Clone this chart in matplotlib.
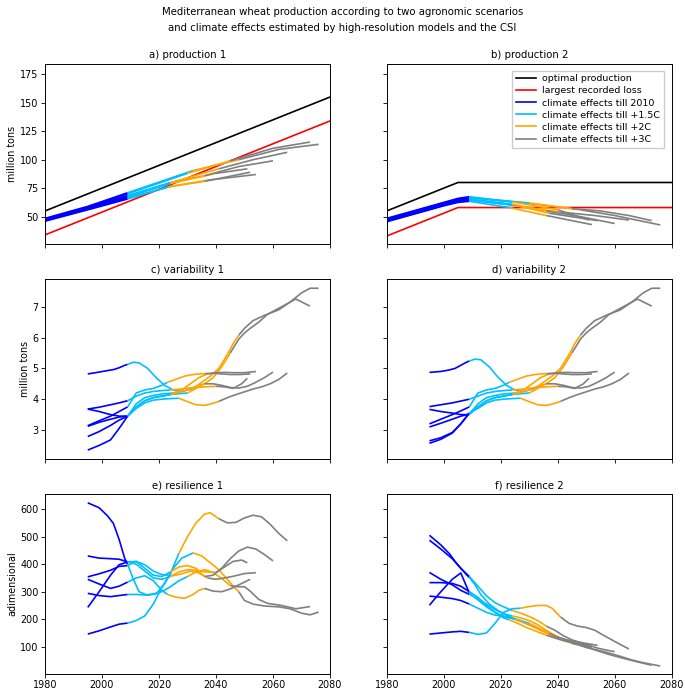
import matplotlib
matplotlib.use('Agg')
import matplotlib.pyplot as plt
from matplotlib.lines import Line2D

plt.rcParams['font.family'] = ['DejaVu Sans']

# ---------------- data ----------------
legend_labels = ['optimal production', 'largest recorded loss', 'climate effects till 2010',
                 'climate effects till +1.5C', 'climate effects till +2C', 'climate effects till +3C']
stage_colors = ['#0000ff', '#00bfff', '#ffa500', '#808080']

end_2010 = 2009
t15_years = [2024, 2023, 2025, 2024, 2027, 2030, 2032]
t2_years = [2040, 2036, 2037, 2036, 2041, 2045, 2048]
t3_years = [2051, 2052, 2054, 2060, 2065, 2073, 2076]

# optimal production and largest recorded loss
opt1_years = [1980, 2080]
opt1_vals = [55, 155]
loss1_vals = [34, 134]
opt2_years = [1980, 2005, 2080]
opt2_vals = [55, 80, 80]
loss2_vals = [33, 58, 58]

# production 1
prod1_years_A = [1980, 1995, 2009, 2024, 2040, 2051]
prod1_A = [47, 57.5, 68, 79, 88, 92]
prod1_years_B = [1980, 1995, 2009, 2023, 2036, 2052]
prod1_B = [46, 56, 65.5, 76, 81, 89]
prod1_years_C = [1980, 1995, 2009, 2025, 2037, 2054]
prod1_C = [46.5, 57, 66.5, 77, 82, 87]
prod1_years_D = [1980, 1995, 2009, 2024, 2036, 2048, 2060]
prod1_D = [47.5, 58, 68.5, 80, 86, 94, 99]
prod1_years_E = [1980, 1995, 2009, 2027, 2041, 2053, 2065]
prod1_E = [47, 57, 67, 82, 92, 100, 106.5]
prod1_years_F = [1980, 1995, 2009, 2030, 2045, 2060, 2073]
prod1_F = [48, 58.5, 70, 88, 99, 110, 115.5]
prod1_years_G = [1980, 1995, 2009, 2032, 2048, 2062, 2076]
prod1_G = [48.5, 59, 71, 90.5, 100, 109, 113.5]

# production 2
prod2_years_A = [1980, 1990, 2000, 2005, 2009, 2024, 2040, 2051]
prod2_A = [47.5, 54.5, 61.5, 65, 66.5, 63, 56, 47]
prod2_years_B = [1980, 1990, 2000, 2005, 2009, 2023, 2036, 2052]
prod2_B = [45.5, 52.5, 59.5, 62.5, 63.5, 58, 51, 43]
prod2_years_C = [1980, 1990, 2000, 2005, 2009, 2025, 2037, 2054]
prod2_C = [46, 53, 60, 63.5, 64.5, 60, 53, 46.5]
prod2_years_D = [1980, 1990, 2000, 2005, 2009, 2024, 2036, 2048, 2060]
prod2_D = [47, 54, 61, 64.5, 65.5, 61, 55, 50, 44]
prod2_years_E = [1980, 1990, 2000, 2005, 2009, 2027, 2041, 2053, 2065]
prod2_E = [46.5, 53.5, 60.5, 64, 65, 59, 54, 51, 47]
prod2_years_F = [1980, 1990, 2000, 2005, 2009, 2030, 2045, 2055, 2065, 2073]
prod2_F = [48, 55, 62, 65.5, 67, 62, 57, 55, 51, 46.5]
prod2_years_G = [1980, 1990, 2000, 2005, 2009, 2020, 2032, 2048, 2060, 2076]
prod2_G = [48.5, 55.5, 62.5, 66, 67.5, 64, 61, 56, 51, 42.7]

# years for variability / resilience
years_A = [1995, 1999, 2003, 2006, 2009, 2012, 2015, 2018, 2021, 2024, 2027, 2030, 2033, 2036, 2040, 2043, 2046, 2049, 2051]
years_B = [1995, 1999, 2003, 2006, 2009, 2012, 2015, 2018, 2021, 2023, 2026, 2029, 2032, 2034, 2036, 2039, 2042, 2045, 2048, 2052]
years_C = [1995, 1999, 2003, 2006, 2009, 2012, 2015, 2018, 2021, 2025, 2028, 2031, 2034, 2037, 2040, 2043, 2046, 2050, 2054]
years_D = [1995, 1999, 2003, 2006, 2009, 2012, 2015, 2018, 2021, 2024, 2027, 2030, 2033, 2036, 2039, 2042, 2045, 2048, 2051, 2054, 2057, 2060]
years_E = [1995, 1999, 2003, 2006, 2009, 2012, 2015, 2018, 2021, 2024, 2027, 2030, 2033, 2036, 2038, 2041, 2044, 2047, 2050, 2053, 2056, 2059, 2062, 2065]
years_F = [1995, 1999, 2003, 2006, 2009, 2012, 2015, 2018, 2021, 2024, 2027, 2030, 2033, 2036, 2039, 2042, 2045, 2048, 2050, 2052, 2055, 2058, 2063, 2068, 2073]
years_G = [1995, 1999, 2002, 2004, 2006, 2008, 2009, 2011, 2013, 2016, 2019, 2022, 2025, 2028, 2032, 2035, 2038, 2041, 2044, 2046, 2048, 2050, 2053, 2057, 2062, 2066, 2070, 2073, 2076]

# variability 1
var1_A = [3.68, 3.74, 3.82, 3.88, 3.95, 4.1, 4.2, 4.25, 4.28, 4.3, 4.32, 4.36, 4.38, 4.4, 4.42, 4.4, 4.35, 4.5, 4.68]
var1_B = [3.14, 3.3, 3.45, 3.6, 3.75, 4.2, 4.3, 4.35, 4.45, 4.55, 4.65, 4.75, 4.8, 4.82, 4.83, 4.84, 4.82, 4.8, 4.8, 4.82]
var1_C = [3.12, 3.25, 3.35, 3.42, 3.45, 3.85, 4.05, 4.12, 4.17, 4.2, 4.3, 4.5, 4.7, 4.82, 4.86, 4.87, 4.86, 4.86, 4.9]
var1_D = [2.79, 2.95, 3.15, 3.32, 3.45, 3.75, 3.95, 4.05, 4.1, 4.15, 4.22, 4.3, 4.42, 4.5, 4.5, 4.45, 4.38, 4.36, 4.42, 4.55, 4.7, 4.88]
var1_E = [2.35, 2.5, 2.68, 3.05, 3.45, 3.7, 3.88, 3.97, 4.0, 4.02, 4.03, 3.92, 3.82, 3.8, 3.84, 3.93, 4.05, 4.15, 4.24, 4.33, 4.4, 4.5, 4.64, 4.85]
var1_F = [3.68, 3.6, 3.5, 3.45, 3.45, 3.75, 3.95, 4.05, 4.1, 4.15, 4.18, 4.2, 4.35, 4.5, 4.7, 5.05, 5.5, 5.95, 6.15, 6.3, 6.5, 6.75, 7.0, 7.25, 7.02]
var1_G = [4.82, 4.88, 4.93, 4.96, 5.02, 5.1, 5.13, 5.2, 5.18, 5.0, 4.7, 4.45, 4.3, 4.25, 4.35, 4.55, 4.75, 5.0, 5.45, 5.8, 6.08, 6.3, 6.55, 6.72, 6.9, 7.15, 7.45, 7.6, 7.6]

# variability 2
var2_A = [3.76, 3.82, 3.88, 3.94, 4.0, 4.1, 4.2, 4.25, 4.28, 4.3, 4.32, 4.36, 4.38, 4.4, 4.42, 4.4, 4.35, 4.5, 4.68]
var2_B = [3.2, 3.35, 3.5, 3.62, 3.75, 4.2, 4.3, 4.35, 4.45, 4.55, 4.65, 4.75, 4.8, 4.82, 4.83, 4.84, 4.82, 4.8, 4.8, 4.82]
var2_C = [3.1, 3.22, 3.35, 3.45, 3.52, 3.85, 4.05, 4.12, 4.17, 4.2, 4.3, 4.5, 4.7, 4.82, 4.86, 4.87, 4.86, 4.86, 4.9]
var2_D = [2.65, 2.75, 2.92, 3.2, 3.55, 3.75, 3.95, 4.05, 4.1, 4.15, 4.22, 4.3, 4.42, 4.5, 4.5, 4.45, 4.38, 4.36, 4.42, 4.55, 4.7, 4.88]
var2_E = [2.57, 2.7, 2.9, 3.2, 3.55, 3.7, 3.88, 3.97, 4.0, 4.02, 4.03, 3.92, 3.82, 3.8, 3.84, 3.93, 4.05, 4.15, 4.24, 4.33, 4.4, 4.5, 4.64, 4.85]
var2_F = [3.67, 3.6, 3.55, 3.5, 3.5, 3.75, 3.95, 4.05, 4.1, 4.15, 4.18, 4.2, 4.35, 4.5, 4.7, 5.05, 5.5, 5.95, 6.15, 6.3, 6.5, 6.75, 7.0, 7.25, 7.02]
var2_G = [4.87, 4.9, 4.95, 5.0, 5.1, 5.2, 5.24, 5.3, 5.28, 5.05, 4.72, 4.45, 4.3, 4.25, 4.35, 4.55, 4.75, 5.0, 5.45, 5.8, 6.08, 6.3, 6.55, 6.72, 6.9, 7.15, 7.45, 7.6, 7.6]

# resilience 1
res1_A = [430, 422, 420, 418, 408, 400, 375, 350, 345, 355, 372, 380, 378, 372, 370, 390, 410, 415, 405]
res1_B = [345, 328, 312, 320, 335, 350, 358, 340, 305, 290, 280, 276, 290, 305, 312, 302, 300, 310, 325, 345]
res1_C = [354, 365, 378, 392, 395, 410, 398, 375, 362, 358, 365, 375, 368, 350, 345, 350, 356, 366, 369]
res1_D = [243, 300, 360, 398, 408, 410, 385, 360, 355, 372, 390, 395, 385, 355, 360, 385, 420, 448, 462, 455, 435, 412]
res1_E = [146, 158, 172, 182, 186, 195, 212, 255, 315, 365, 440, 500, 550, 582, 587, 565, 550, 552, 568, 578, 572, 545, 512, 485]
res1_F = [294, 286, 282, 286, 290, 290, 288, 292, 300, 318, 340, 355, 372, 380, 370, 348, 322, 318, 318, 302, 272, 258, 250, 238, 246]
res1_G = [623, 605, 575, 548, 490, 420, 400, 345, 300, 287, 292, 330, 385, 422, 441, 430, 405, 380, 345, 320, 300, 268, 255, 248, 245, 238, 222, 216, 226]

# resilience 2
res2_A = [370, 345, 325, 305, 290, 275, 255, 235, 220, 212, 205, 195, 180, 160, 135, 125, 115, 108, 102]
res2_B = [333, 333, 330, 320, 300, 280, 250, 225, 205, 198, 185, 170, 158, 150, 142, 132, 122, 115, 108, 98]
res2_C = [251, 300, 345, 368, 295, 270, 245, 225, 210, 200, 188, 175, 160, 148, 135, 125, 120, 112, 105]
res2_D = [487, 455, 420, 385, 355, 320, 285, 260, 245, 232, 222, 210, 195, 175, 160, 140, 125, 115, 105, 95, 88, 82]
res2_E = [146, 150, 154, 156, 152, 145, 150, 185, 225, 238, 240, 246, 250, 250, 240, 208, 185, 175, 170, 160, 142, 125, 108, 92]
res2_F = [284, 280, 275, 268, 255, 240, 225, 215, 212, 205, 195, 185, 170, 155, 140, 125, 112, 105, 98, 92, 82, 72, 58, 45, 33]
res2_G = [505, 470, 438, 410, 385, 362, 352, 325, 290, 255, 232, 215, 200, 188, 170, 155, 140, 128, 118, 112, 105, 98, 90, 80, 65, 52, 42, 36, 30]

prod1_years = [prod1_years_A, prod1_years_B, prod1_years_C, prod1_years_D, prod1_years_E, prod1_years_F, prod1_years_G]
prod1 = [prod1_A, prod1_B, prod1_C, prod1_D, prod1_E, prod1_F, prod1_G]
prod2_years = [prod2_years_A, prod2_years_B, prod2_years_C, prod2_years_D, prod2_years_E, prod2_years_F, prod2_years_G]
prod2 = [prod2_A, prod2_B, prod2_C, prod2_D, prod2_E, prod2_F, prod2_G]
years_all = [years_A, years_B, years_C, years_D, years_E, years_F, years_G]
var1 = [var1_A, var1_B, var1_C, var1_D, var1_E, var1_F, var1_G]
var2 = [var2_A, var2_B, var2_C, var2_D, var2_E, var2_F, var2_G]
res1 = [res1_A, res1_B, res1_C, res1_D, res1_E, res1_F, res1_G]
res2 = [res2_A, res2_B, res2_C, res2_D, res2_E, res2_F, res2_G]

# ---------------- figure ----------------
W, H = 685, 691
fig = plt.figure(figsize=(W / 100, H / 100), dpi=100)

FS_TICK = 6.9
FS_TITLE = 7.3
LW = 1.2

def make_ax(left_px, top_px, w_px=285, h_px=180):
    return fig.add_axes([left_px / W, 1 - (top_px + h_px) / H, w_px / W, h_px / H])

lefts = [45, 386.7]
tops = [64, 279, 494]
axes = [[make_ax(l, t) for l in lefts] for t in tops]


def draw_stages(ax, yrs_list, vals_list, lw=LW):
    for stage in range(4):
        for i, (yrs, vals) in enumerate(zip(yrs_list, vals_list)):
            bounds = [yrs[0], end_2010, t15_years[i], t2_years[i], t3_years[i]]
            lo, hi = bounds[stage], bounds[stage + 1]
            xs = [y for y in yrs if lo <= y <= hi]
            vs = [v for y, v in zip(yrs, vals) if lo <= y <= hi]
            ax.plot(xs, vs, color=stage_colors[stage], lw=lw, solid_capstyle='butt')


# production panels
ax = axes[0][0]
ax.plot(opt1_years, opt1_vals, color='black', lw=LW)
ax.plot(opt1_years, loss1_vals, color='red', lw=LW)
draw_stages(ax, prod1_years, prod1)

ax = axes[0][1]
ax.plot(opt2_years, opt2_vals, color='black', lw=LW)
ax.plot(opt2_years, loss2_vals, color='red', lw=LW)
draw_stages(ax, prod2_years, prod2)

draw_stages(axes[1][0], years_all, var1)
draw_stages(axes[1][1], years_all, var2)
draw_stages(axes[2][0], years_all, res1)
draw_stages(axes[2][1], years_all, res2)

titles = [['a) production 1', 'b) production 2'],
          ['c) variability 1', 'd) variability 2'],
          ['e) resilience 1', 'f) resilience 2']]
ylims = [(26, 184), (2.06, 7.9), (1, 655)]
yticks = [[50, 75, 100, 125, 150, 175], [3, 4, 5, 6, 7], [100, 200, 300, 400, 500, 600]]
ylabels = ['million tons', 'million tons', 'adimensional']

for r in range(3):
    for c in range(2):
        ax = axes[r][c]
        ax.set_xlim(1980, 2080)
        ax.set_ylim(*ylims[r])
        ax.set_xticks([1980, 2000, 2020, 2040, 2060, 2080])
        ax.set_yticks(yticks[r])
        ax.set_title(titles[r][c], fontsize=FS_TITLE, pad=4)
        ax.tick_params(labelsize=FS_TICK, length=2.6, width=0.6, pad=2)
        for s in ax.spines.values():
            s.set_linewidth(0.7)
        if r < 2:
            ax.set_xticklabels([])
        if c == 1:
            ax.set_yticklabels([])
        else:
            ax.set_ylabel(ylabels[r], fontsize=FS_TICK, labelpad=2)

handles = [Line2D([], [], color=col, lw=LW) for col in ['black', 'red'] + stage_colors]
axes[0][1].legend(handles, legend_labels, loc='upper right', fontsize=6.8,
                  handlelength=2.1, handletextpad=0.7, borderpad=0.4, labelspacing=0.33,
                  framealpha=1, edgecolor='#cccccc', fancybox=False,
                  bbox_to_anchor=(0.99, 0.99))

fig.text(0.5, 1 - 12 / H, 'Mediterranean wheat production according to two agronomic scenarios',
         ha='center', va='center', fontsize=FS_TITLE)
fig.text(0.5, 1 - 28 / H, 'and climate effects estimated by high-resolution models and the CSI',
         ha='center', va='center', fontsize=FS_TITLE)

fig.savefig('out.png', dpi=100)
